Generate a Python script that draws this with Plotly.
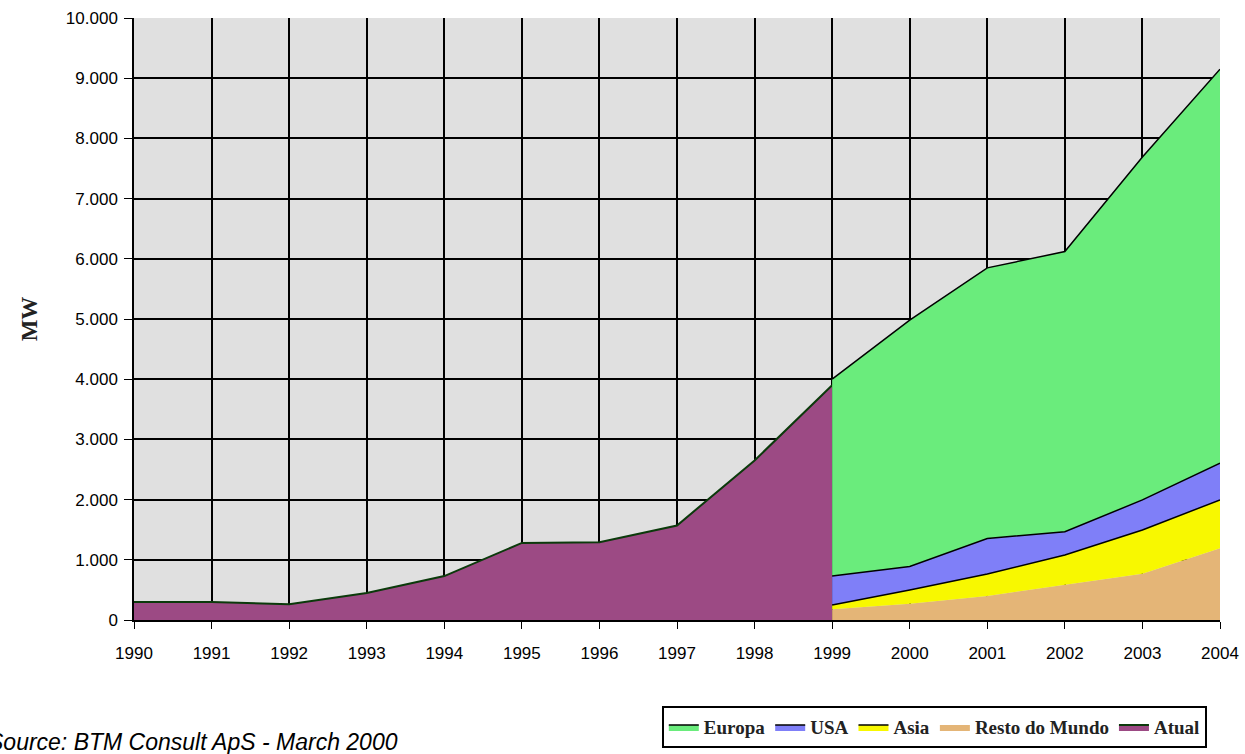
import plotly.graph_objects as go

# Historic installations (MW), 1990-1999
years_hist = [1990, 1991, 1992, 1993, 1994, 1995, 1996, 1997, 1998, 1999]
atual = [300, 300, 260, 450, 730, 1280, 1290, 1570, 2650, 3900]

# Forecast by region (MW), 1999-2004
years_fc = [1999, 2000, 2001, 2002, 2003, 2004]
resto_do_mundo = [180, 270, 400, 580, 770, 1190]
asia = [70, 230, 365, 500, 725, 805]
usa = [480, 390, 590, 385, 500, 610]
europa = [3270, 4090, 4495, 4655, 5695, 6545]

year_ticks = list(range(1990, 2005))
mw_ticks = list(range(0, 10001, 1000))

fig = go.Figure()

fig.add_trace(go.Scatter(
    x=years_hist, y=atual, name="Atual", mode="lines",
    fill="tozeroy", fillcolor="#9c4a84",
    line=dict(color="#0b3a0b", width=2), legendrank=5,
))

stack = [
    ("Resto do Mundo", resto_do_mundo, "#e4b577", 0, 4),
    ("Asia", asia, "#f8f800", 1.5, 3),
    ("USA", usa, "#7f7ff8", 1.5, 2),
    ("Europa", europa, "#6aec7c", 1.5, 1),
]
for name, vals, color, lw, rank in stack:
    fig.add_trace(go.Scatter(
        x=years_fc, y=vals, name=name, mode="lines", stackgroup="fc",
        fillcolor=color,
        line=dict(color="black" if lw else color, width=lw),
        legendrank=rank,
    ))

fig.update_layout(
    width=1245, height=754,
    margin=dict(l=134, r=25, t=18, b=134, autoexpand=False),
    paper_bgcolor="white",
    plot_bgcolor="#e0e0e0",
    separators=",.",
    showlegend=True,
    legend=dict(
        orientation="h", traceorder="normal",
        x=0.486, y=-0.143, xanchor="left", yanchor="top",
        bgcolor="white", bordercolor="black", borderwidth=2,
        font=dict(family="Liberation Serif", size=19, color="#222222", weight="bold"),
        itemwidth=30, tracegroupgap=0,
    ),
    font=dict(family="Liberation Sans", size=17, color="black"),
)

fig.update_xaxes(
    range=[1990, 2004], tickvals=year_ticks, ticktext=[str(y) for y in year_ticks],
    showgrid=True, gridcolor="black", gridwidth=2,
    ticks="outside", ticklen=7, tickcolor="black", ticklabelstandoff=10,
    showline=True, linecolor="black", linewidth=1.5,
    zeroline=False, automargin=False,
)
fig.update_yaxes(
    range=[0, 10000], tickvals=mw_ticks, tickformat=",d",
    showgrid=True, gridcolor="black", gridwidth=2,
    ticks="outside", ticklen=8, tickcolor="black", ticklabelstandoff=3,
    showline=True, linecolor="black", linewidth=1.5,
    zeroline=False, automargin=False,
    title=dict(text="<b>MW</b>", font=dict(family="Liberation Serif", size=23, color="#222222"), standoff=22),
)

fig.add_annotation(
    text="<i>Source: BTM Consult ApS - March 2000</i>",
    xref="paper", yref="paper",
    x=(-14 - 134) / 1086, y=(620 - 742) / 602,
    xanchor="left", yanchor="middle", showarrow=False,
    font=dict(family="Liberation Sans", size=23, color="black"),
)

fig.write_html("out.html")
